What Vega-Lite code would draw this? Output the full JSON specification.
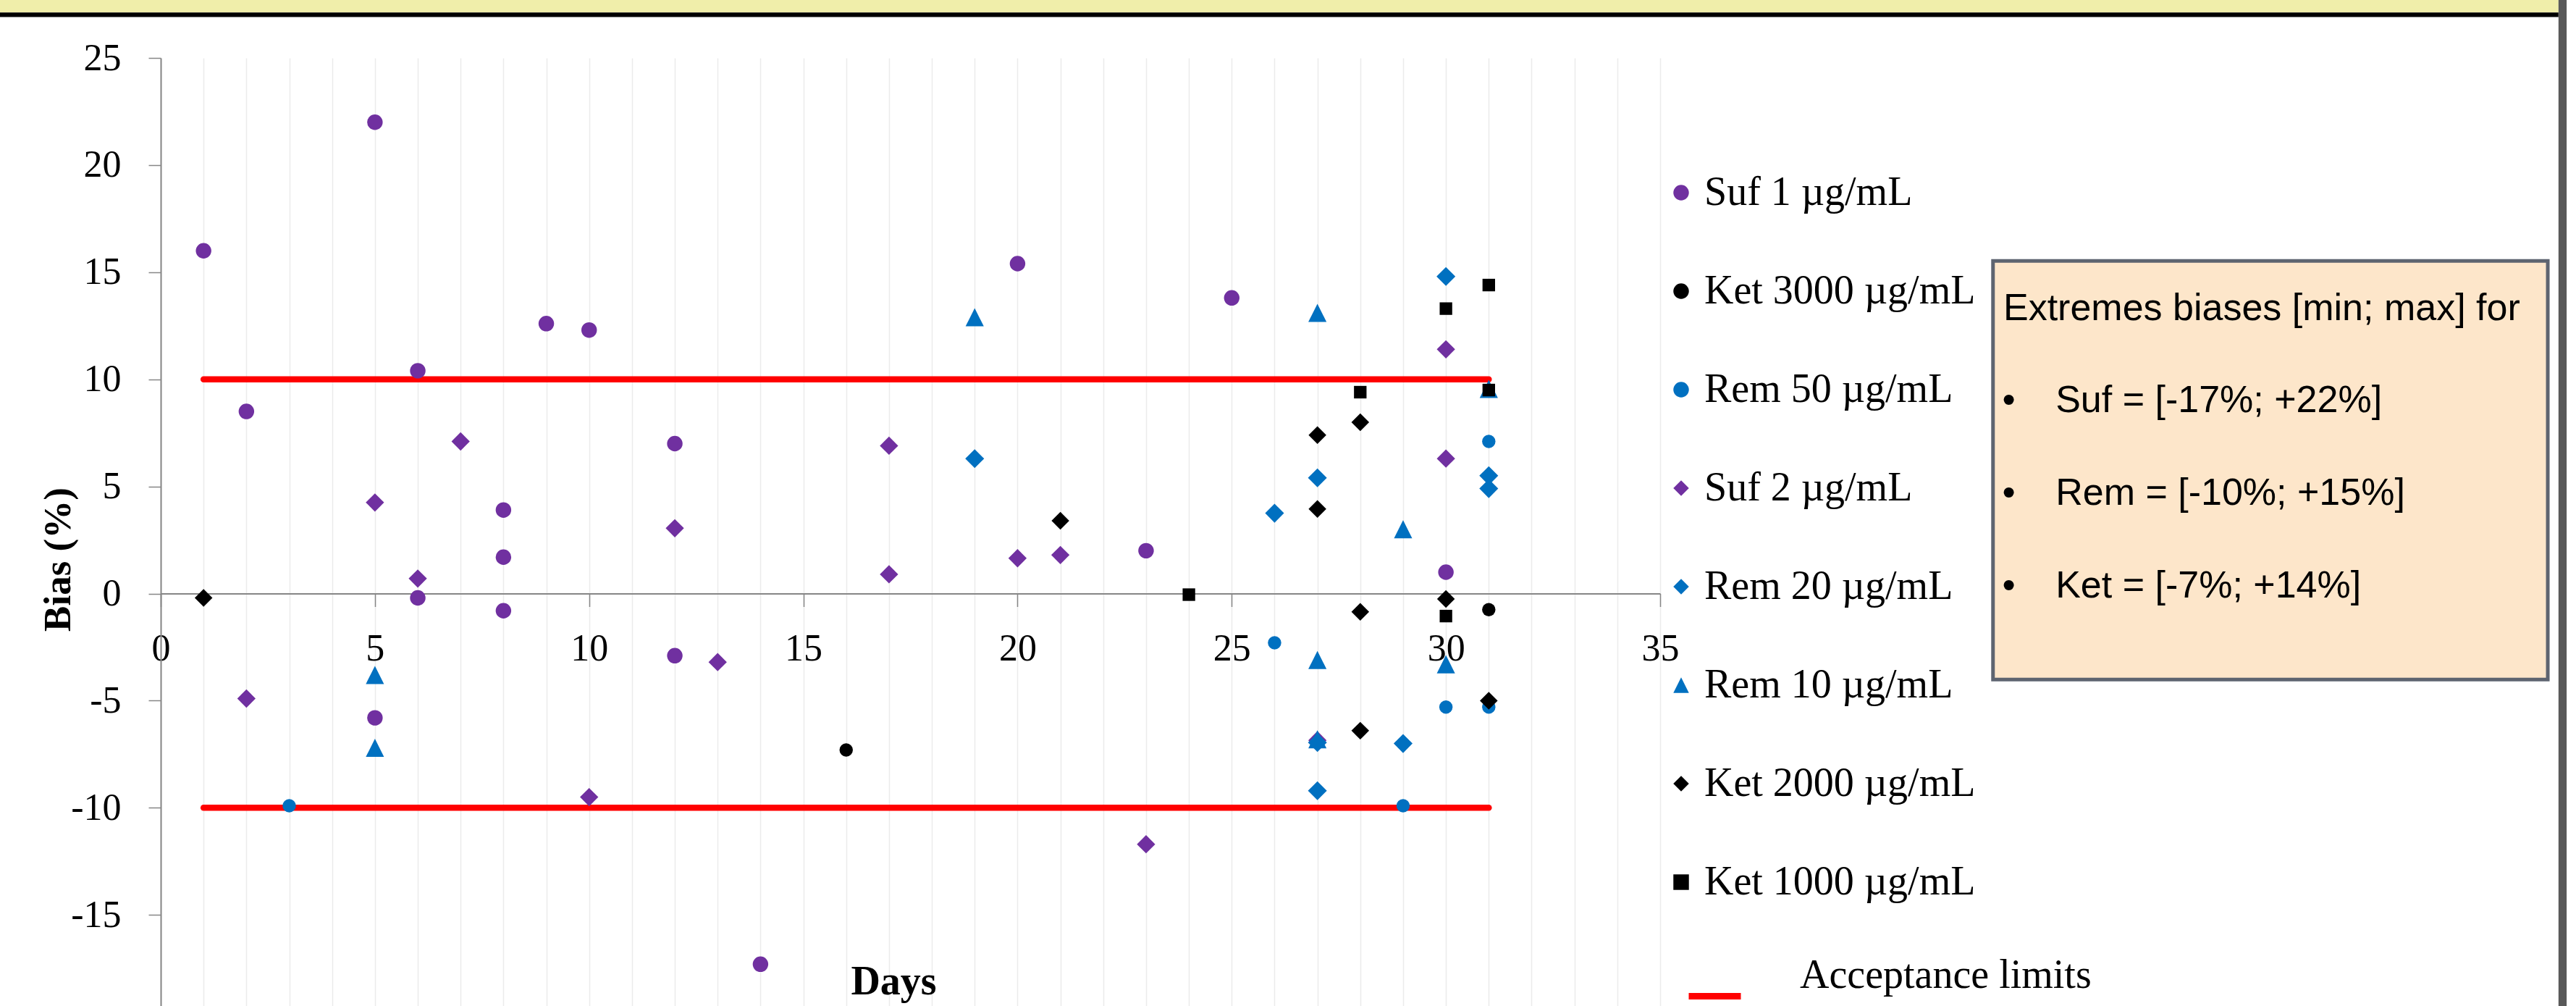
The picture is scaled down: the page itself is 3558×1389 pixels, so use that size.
{
  "$schema": "https://vega.github.io/schema/vega-lite/v6.json",
  "width": 2071,
  "height": 1309,
  "autosize": {"type": "none"},
  "padding": {"left": 222, "top": 80, "right": 1265, "bottom": 0},
  "background": "white",
  "config": {"view": {"stroke": null}},
  "datasets": {
    "points": [
      {"series": "Suf 1 µg/mL", "day": 1, "bias": 16.0},
      {"series": "Suf 1 µg/mL", "day": 2, "bias": 8.5},
      {"series": "Suf 1 µg/mL", "day": 5, "bias": 22.0},
      {"series": "Suf 1 µg/mL", "day": 5, "bias": -5.8},
      {"series": "Suf 1 µg/mL", "day": 6, "bias": 10.4},
      {"series": "Suf 1 µg/mL", "day": 6, "bias": -0.2},
      {"series": "Suf 1 µg/mL", "day": 8, "bias": 3.9},
      {"series": "Suf 1 µg/mL", "day": 8, "bias": 1.7},
      {"series": "Suf 1 µg/mL", "day": 8, "bias": -0.8},
      {"series": "Suf 1 µg/mL", "day": 9, "bias": 12.6},
      {"series": "Suf 1 µg/mL", "day": 10, "bias": 12.3},
      {"series": "Suf 1 µg/mL", "day": 12, "bias": 7.0},
      {"series": "Suf 1 µg/mL", "day": 12, "bias": -2.9},
      {"series": "Suf 1 µg/mL", "day": 14, "bias": -17.3},
      {"series": "Suf 1 µg/mL", "day": 20, "bias": 15.4},
      {"series": "Suf 1 µg/mL", "day": 23, "bias": 2.0},
      {"series": "Suf 1 µg/mL", "day": 25, "bias": 13.8},
      {"series": "Suf 1 µg/mL", "day": 30, "bias": 1.0},
      {"series": "Ket 3000 µg/mL", "day": 16, "bias": -7.3},
      {"series": "Ket 3000 µg/mL", "day": 31, "bias": -0.75},
      {"series": "Rem 50 µg/mL", "day": 3, "bias": -9.9},
      {"series": "Rem 50 µg/mL", "day": 26, "bias": -2.3},
      {"series": "Rem 50 µg/mL", "day": 29, "bias": -9.9},
      {"series": "Rem 50 µg/mL", "day": 30, "bias": -5.3},
      {"series": "Rem 50 µg/mL", "day": 31, "bias": 7.1},
      {"series": "Rem 50 µg/mL", "day": 31, "bias": -5.3},
      {"series": "Suf 2 µg/mL", "day": 2, "bias": -4.9},
      {"series": "Suf 2 µg/mL", "day": 5, "bias": 4.25},
      {"series": "Suf 2 µg/mL", "day": 6, "bias": 0.7},
      {"series": "Suf 2 µg/mL", "day": 7, "bias": 7.1},
      {"series": "Suf 2 µg/mL", "day": 10, "bias": -9.5},
      {"series": "Suf 2 µg/mL", "day": 12, "bias": 3.05},
      {"series": "Suf 2 µg/mL", "day": 13, "bias": -3.2},
      {"series": "Suf 2 µg/mL", "day": 17, "bias": 6.9},
      {"series": "Suf 2 µg/mL", "day": 17, "bias": 0.9},
      {"series": "Suf 2 µg/mL", "day": 20, "bias": 1.65},
      {"series": "Suf 2 µg/mL", "day": 21, "bias": 1.8},
      {"series": "Suf 2 µg/mL", "day": 23, "bias": -11.7},
      {"series": "Suf 2 µg/mL", "day": 27, "bias": -6.85},
      {"series": "Suf 2 µg/mL", "day": 30, "bias": 11.4},
      {"series": "Suf 2 µg/mL", "day": 30, "bias": 6.3},
      {"series": "Rem 20 µg/mL", "day": 19, "bias": 6.3},
      {"series": "Rem 20 µg/mL", "day": 26, "bias": 3.75},
      {"series": "Rem 20 µg/mL", "day": 27, "bias": 5.4},
      {"series": "Rem 20 µg/mL", "day": 27, "bias": -6.95},
      {"series": "Rem 20 µg/mL", "day": 27, "bias": -9.2},
      {"series": "Rem 20 µg/mL", "day": 29, "bias": -7.0},
      {"series": "Rem 20 µg/mL", "day": 30, "bias": 14.8},
      {"series": "Rem 20 µg/mL", "day": 31, "bias": 5.5},
      {"series": "Rem 20 µg/mL", "day": 31, "bias": 4.9},
      {"series": "Rem 10 µg/mL", "day": 5, "bias": -3.8},
      {"series": "Rem 10 µg/mL", "day": 5, "bias": -7.2},
      {"series": "Rem 10 µg/mL", "day": 19, "bias": 12.9},
      {"series": "Rem 10 µg/mL", "day": 27, "bias": 13.1},
      {"series": "Rem 10 µg/mL", "day": 27, "bias": -3.1},
      {"series": "Rem 10 µg/mL", "day": 27, "bias": -6.8},
      {"series": "Rem 10 µg/mL", "day": 29, "bias": 3.0},
      {"series": "Rem 10 µg/mL", "day": 30, "bias": -3.3},
      {"series": "Rem 10 µg/mL", "day": 31, "bias": 9.55},
      {"series": "Ket 2000 µg/mL", "day": 1, "bias": -0.2},
      {"series": "Ket 2000 µg/mL", "day": 21, "bias": 3.4},
      {"series": "Ket 2000 µg/mL", "day": 27, "bias": 7.4},
      {"series": "Ket 2000 µg/mL", "day": 27, "bias": 3.95},
      {"series": "Ket 2000 µg/mL", "day": 28, "bias": 8.0},
      {"series": "Ket 2000 µg/mL", "day": 28, "bias": -0.85},
      {"series": "Ket 2000 µg/mL", "day": 28, "bias": -6.4},
      {"series": "Ket 2000 µg/mL", "day": 30, "bias": -0.25},
      {"series": "Ket 2000 µg/mL", "day": 31, "bias": -5.0},
      {"series": "Ket 1000 µg/mL", "day": 24, "bias": -0.05},
      {"series": "Ket 1000 µg/mL", "day": 28, "bias": 9.4},
      {"series": "Ket 1000 µg/mL", "day": 30, "bias": 13.3},
      {"series": "Ket 1000 µg/mL", "day": 30, "bias": -1.05},
      {"series": "Ket 1000 µg/mL", "day": 31, "bias": 14.4},
      {"series": "Ket 1000 µg/mL", "day": 31, "bias": 9.5}
    ],
    "limits": [
      {"limit": "Acceptance limits", "start": 1, "end": 31, "bias": 10},
      {"limit": "Acceptance limits", "start": 1, "end": 31, "bias": -10}
    ]
  },
  "layer": [
    {
      "data": {"values": [{}]},
      "mark": {"type": "rect", "fill": "#F0EEAA"},
      "encoding": {
        "x": {"datum": -3.76, "type": "quantitative", "scale": {"domain": [0, 35], "nice": false, "zero": false}},
        "x2": {"datum": 55.97},
        "y": {"datum": 27.71, "type": "quantitative", "scale": {"domain": [-19.25, 25], "nice": false, "zero": false}},
        "y2": {"datum": 27.12}
      }
    },
    {
      "data": {"values": [{}]},
      "mark": {"type": "rect", "fill": "#000000"},
      "encoding": {
        "x": {"datum": -3.76, "type": "quantitative", "scale": {"domain": [0, 35], "nice": false, "zero": false}},
        "x2": {"datum": 55.97},
        "y": {"datum": 27.12, "type": "quantitative", "scale": {"domain": [-19.25, 25], "nice": false, "zero": false}},
        "y2": {"datum": 26.91}
      }
    },
    {
      "data": {"values": [{}]},
      "mark": {"type": "rect", "fill": "#595959"},
      "encoding": {
        "x": {"datum": 55.97, "type": "quantitative", "scale": {"domain": [0, 35], "nice": false, "zero": false}},
        "x2": {"datum": 56.16},
        "y": {"datum": 27.71, "type": "quantitative", "scale": {"domain": [-19.25, 25], "nice": false, "zero": false}},
        "y2": {"datum": -19.25}
      }
    },
    {
      "data": {"name": "limits"},
      "mark": {"type": "rule", "strokeWidth": 8.5, "strokeCap": "round"},
      "encoding": {
        "x": {"field": "start", "type": "quantitative", "scale": {"domain": [0, 35], "nice": false, "zero": false}},
        "x2": {"field": "end"},
        "y": {"field": "bias", "type": "quantitative", "scale": {"domain": [-19.25, 25], "nice": false, "zero": false}},
        "stroke": {
          "field": "limit", "type": "nominal",
          "scale": {"domain": ["Acceptance limits"], "range": ["#ff0000"]},
          "legend": {
            "title": null, "orient": "none", "legendX": 2106, "legendY": 1255,
            "symbolType": "stroke", "symbolSize": 5184, "symbolStrokeWidth": 9,
            "labelFont": "Liberation Serif", "labelFontSize": 56, "labelColor": "#000000",
            "labelOffset": 77, "labelLimit": 1000, "labelBaseline": "bottom", "padding": 0
          }
        }
      }
    },
    {
      "data": {"name": "points"},
      "mark": {"type": "point", "filled": true, "opacity": 1, "strokeWidth": 0},
      "encoding": {
        "x": {
          "field": "day", "type": "quantitative",
          "scale": {"domain": [0, 35], "nice": false, "zero": false},
          "axis": {
            "title": "Days",
            "values": [0,1,2,3,4,5,6,7,8,9,10,11,12,13,14,15,16,17,18,19,20,21,22,23,24,25,26,27,28,29,30,31,32,33,34,35],
            "grid": true, "gridColor": "#ebebeb", "gridWidth": 1.5,
            "labelExpr": "datum.value % 5 === 0 ? (datum.value + '') : ''",
            "labelFlush": false, "labelOverlap": false,
            "labelFont": "Liberation Serif", "labelFontSize": 52, "labelColor": "#000000", "labelPadding": 33,
            "tickSize": 18, "tickColor": "#868686", "tickWidth": 1.5,
            "tickOpacity": {"condition": {"test": "datum.value % 5 === 0", "value": 1}, "value": 0},
            "domainColor": "#868686", "domainWidth": 2,
            "offset": -569.5,
            "titleFont": "Liberation Serif", "titleFontWeight": "bold", "titleFontSize": 56, "titleColor": "#000000",
            "titleX": 1012, "titleY": 553, "titleBaseline": "alphabetic", "titleAlign": "center"
          }
        },
        "y": {
          "field": "bias", "type": "quantitative",
          "scale": {"domain": [-19.25, 25], "nice": false, "zero": false},
          "axis": {
            "title": "Bias (%)",
            "values": [-15, -10, -5, 0, 5, 10, 15, 20, 25],
            "labelExpr": "datum.value + ''",
            "grid": false,
            "labelFont": "Liberation Serif", "labelFontSize": 52, "labelColor": "#000000", "labelPadding": 38,
            "tickSize": 17, "tickColor": "#868686", "tickWidth": 1.5,
            "domainColor": "#868686", "domainWidth": 2,
            "titleFont": "Liberation Serif", "titleFontWeight": "bold", "titleFontSize": 53, "titleColor": "#000000",
            "titleAngle": 270, "titleX": -115, "titleY": 692, "titleBaseline": "bottom", "titleAlign": "center"
          }
        },
        "color": {
          "field": "series", "type": "nominal",
          "scale": {
            "domain": ["Suf 1 µg/mL", "Ket 3000 µg/mL", "Rem 50 µg/mL", "Suf 2 µg/mL", "Rem 20 µg/mL", "Rem 10 µg/mL", "Ket 2000 µg/mL", "Ket 1000 µg/mL"],
            "range": ["#7030A0", "#000000", "#0070C0", "#7030A0", "#0070C0", "#0070C0", "#000000", "#000000"]
          },
          "legend": {
            "title": null, "orient": "none", "legendX": 2072, "legendY": 158, "direction": "vertical",
            "labelFont": "Liberation Serif", "labelFontSize": 56, "labelColor": "#000000", "labelLimit": 1000,
            "labelOffset": 4, "rowPadding": 80, "symbolStrokeWidth": 0, "symbolSize": 460, "padding": 0, "symbolOffset": 0
          }
        },
        "shape": {
          "field": "series", "type": "nominal",
          "scale": {
            "domain": ["Suf 1 µg/mL", "Ket 3000 µg/mL", "Rem 50 µg/mL", "Suf 2 µg/mL", "Rem 20 µg/mL", "Rem 10 µg/mL", "Ket 2000 µg/mL", "Ket 1000 µg/mL"],
            "range": ["circle", "circle", "circle", "diamond", "diamond", "M0,-1L1,1L-1,1Z", "diamond", "square"]
          },
          "legend": {
            "title": null, "orient": "none", "legendX": 2072, "legendY": 158, "direction": "vertical",
            "labelFont": "Liberation Serif", "labelFontSize": 56, "labelColor": "#000000", "labelLimit": 1000,
            "labelOffset": 4, "rowPadding": 80, "symbolStrokeWidth": 0, "symbolSize": 460, "padding": 0, "symbolOffset": 0
          }
        },
        "size": {
          "condition": [
            {"test": "datum.series === 'Suf 1 µg/mL'", "value": 460},
            {"test": "datum.series === 'Ket 3000 µg/mL' || datum.series === 'Rem 50 µg/mL'", "value": 340},
            {"test": "datum.series === 'Suf 2 µg/mL'", "value": 640},
            {"test": "datum.series === 'Rem 20 µg/mL'", "value": 680},
            {"test": "datum.series === 'Rem 10 µg/mL'", "value": 630},
            {"test": "datum.series === 'Ket 2000 µg/mL'", "value": 600},
            {"test": "datum.series === 'Ket 1000 µg/mL'", "value": 300}
          ],
          "value": 520
        }
      }
    },
    {
      "data": {"values": [{}]},
      "mark": {"type": "rect", "fill": "#FDE6CA", "stroke": "#5E6470", "strokeWidth": 5},
      "encoding": {
        "x": {"datum": 42.77, "type": "quantitative", "scale": {"domain": [0, 35], "nice": false, "zero": false}},
        "x2": {"datum": 55.72},
        "y": {"datum": 15.53, "type": "quantitative", "scale": {"domain": [-19.25, 25], "nice": false, "zero": false}},
        "y2": {"datum": -4.01}
      }
    },
    {
      "data": {"values": [{}]},
      "mark": {"type": "text", "font": "Liberation Sans", "fontSize": 52, "align": "left", "baseline": "middle", "color": "#000000"},
      "encoding": {
        "x": {"datum": 43.01, "type": "quantitative", "scale": {"domain": [0, 35], "nice": false, "zero": false}},
        "y": {"datum": 13.3, "type": "quantitative", "scale": {"domain": [-19.25, 25], "nice": false, "zero": false}},
        "text": {"value": "Extremes biases [min; max] for"}
      }
    },
    {
      "data": {"values": [{}]},
      "mark": {"type": "text", "font": "Liberation Sans", "fontSize": 52, "align": "center", "baseline": "middle", "color": "#000000"},
      "encoding": {
        "x": {"datum": 43.14, "type": "quantitative", "scale": {"domain": [0, 35], "nice": false, "zero": false}},
        "y": {"datum": 9.01, "type": "quantitative", "scale": {"domain": [-19.25, 25], "nice": false, "zero": false}},
        "text": {"value": "•"}
      }
    },
    {
      "data": {"values": [{}]},
      "mark": {"type": "text", "font": "Liberation Sans", "fontSize": 52, "align": "left", "baseline": "middle", "color": "#000000"},
      "encoding": {
        "x": {"datum": 44.23, "type": "quantitative", "scale": {"domain": [0, 35], "nice": false, "zero": false}},
        "y": {"datum": 9.01, "type": "quantitative", "scale": {"domain": [-19.25, 25], "nice": false, "zero": false}},
        "text": {"value": "Suf = [-17%; +22%]"}
      }
    },
    {
      "data": {"values": [{}]},
      "mark": {"type": "text", "font": "Liberation Sans", "fontSize": 52, "align": "center", "baseline": "middle", "color": "#000000"},
      "encoding": {
        "x": {"datum": 43.14, "type": "quantitative", "scale": {"domain": [0, 35], "nice": false, "zero": false}},
        "y": {"datum": 4.68, "type": "quantitative", "scale": {"domain": [-19.25, 25], "nice": false, "zero": false}},
        "text": {"value": "•"}
      }
    },
    {
      "data": {"values": [{}]},
      "mark": {"type": "text", "font": "Liberation Sans", "fontSize": 52, "align": "left", "baseline": "middle", "color": "#000000"},
      "encoding": {
        "x": {"datum": 44.23, "type": "quantitative", "scale": {"domain": [0, 35], "nice": false, "zero": false}},
        "y": {"datum": 4.68, "type": "quantitative", "scale": {"domain": [-19.25, 25], "nice": false, "zero": false}},
        "text": {"value": "Rem = [-10%; +15%]"}
      }
    },
    {
      "data": {"values": [{}]},
      "mark": {"type": "text", "font": "Liberation Sans", "fontSize": 52, "align": "center", "baseline": "middle", "color": "#000000"},
      "encoding": {
        "x": {"datum": 43.14, "type": "quantitative", "scale": {"domain": [0, 35], "nice": false, "zero": false}},
        "y": {"datum": 0.35, "type": "quantitative", "scale": {"domain": [-19.25, 25], "nice": false, "zero": false}},
        "text": {"value": "•"}
      }
    },
    {
      "data": {"values": [{}]},
      "mark": {"type": "text", "font": "Liberation Sans", "fontSize": 52, "align": "left", "baseline": "middle", "color": "#000000"},
      "encoding": {
        "x": {"datum": 44.23, "type": "quantitative", "scale": {"domain": [0, 35], "nice": false, "zero": false}},
        "y": {"datum": 0.35, "type": "quantitative", "scale": {"domain": [-19.25, 25], "nice": false, "zero": false}},
        "text": {"value": "Ket = [-7%; +14%]"}
      }
    }
  ]
}
